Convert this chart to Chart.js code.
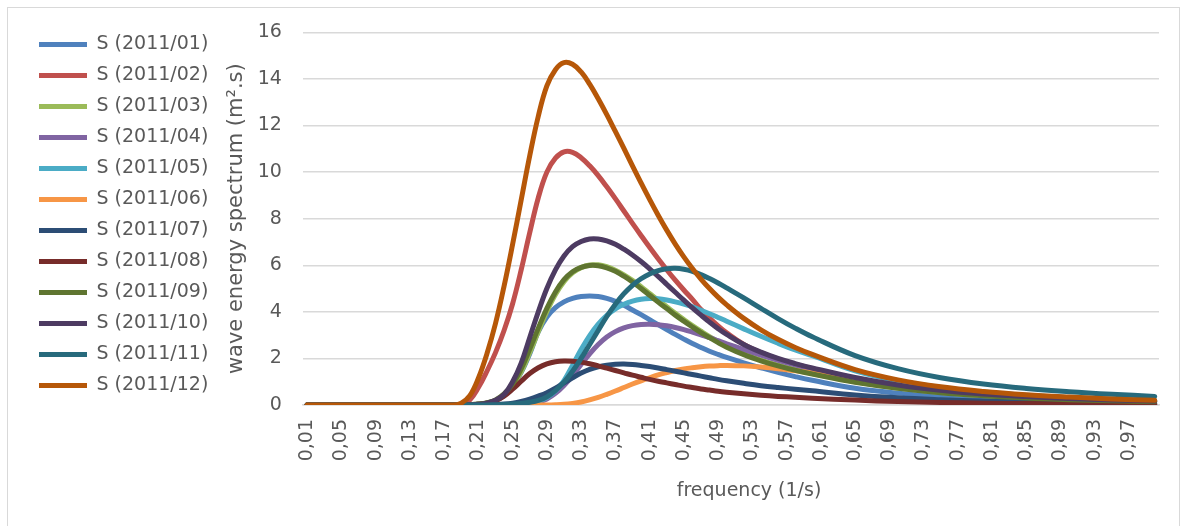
<!DOCTYPE html>
<html>
<head>
<meta charset="utf-8">
<title>Wave energy spectrum 2011</title>
<script src="https://cdn.jsdelivr.net/npm/chart.js@4/dist/chart.umd.min.js"></script>
<style>
  html, body { margin: 0; padding: 0; background: #fff; }
  #wrap { width: 1195px; height: 526px; }
</style>
</head>
<body>
<div id="wrap"><canvas id="spectrum" width="1195" height="526"></canvas></div>
<script>
// frequency grid (1/s) the spectra are sampled on
const freq = [
  0.01, 0.18,
  0.19, 0.20, 0.21, 0.22, 0.23, 0.24, 0.25, 0.26, 0.27, 0.28,
  0.29, 0.30, 0.31, 0.32, 0.33, 0.34, 0.35, 0.36, 0.37, 0.38,
  0.39, 0.40, 0.41, 0.42, 0.43, 0.44, 0.45, 0.46, 0.47, 0.48,
  0.49, 0.50, 0.52, 0.54, 0.56, 0.58, 0.60,
  0.65, 0.70, 0.75, 0.80, 0.85, 0.90, 0.95, 1.00
];

// labels shown under the frequency axis
const xTickValues = [
  0.01, 0.05, 0.09, 0.13, 0.17, 0.21, 0.25, 0.29, 0.33, 0.37, 0.41, 0.45, 0.49,
  0.53, 0.57, 0.61, 0.65, 0.69, 0.73, 0.77, 0.81, 0.85, 0.89, 0.93, 0.97
];

const seriesNames = [
  'S (2011/01)', 'S (2011/02)', 'S (2011/03)', 'S (2011/04)', 'S (2011/05)', 'S (2011/06)',
  'S (2011/07)', 'S (2011/08)', 'S (2011/09)', 'S (2011/10)', 'S (2011/11)', 'S (2011/12)'
];

const seriesColors = [
  '#4F81BD', '#C0504D', '#9BBB59', '#8064A2', '#4BACC6', '#F79646',
  '#2C4D75', '#772C2A', '#5F7530', '#4D3B62', '#276A7C', '#B65708'
];

// monthly spectra S(f) in m².s
const jan = [
  0, 0,
  0, 0.01, 0.03, 0.08, 0.18, 0.4, 0.8, 1.4, 2.2, 3.15,
  3.78, 4.18, 4.43, 4.58, 4.66, 4.68, 4.66, 4.58, 4.45, 4.28,
  4.08, 3.88, 3.66, 3.45, 3.24, 3.03, 2.83, 2.64, 2.47, 2.31,
  2.17, 2.04, 1.81, 1.6, 1.4, 1.22, 1.06,
  0.72, 0.51, 0.37, 0.28, 0.21, 0.16, 0.13, 0.1
];
const feb = [
  0, 0,
  0.03, 0.22, 0.75, 1.45, 2.25, 3.2, 4.35, 5.8, 7.4, 8.9,
  10.0, 10.6, 10.87, 10.85, 10.62, 10.27, 9.85, 9.37, 8.86, 8.33,
  7.8, 7.28, 6.77, 6.28, 5.81, 5.36, 4.94, 4.54, 4.1, 3.74,
  3.4, 3.1, 2.6, 2.25, 1.97, 1.75, 1.56,
  1.14, 0.83, 0.61, 0.45, 0.34, 0.27, 0.21, 0.16
];
const mar = [
  0, 0,
  0, 0.01, 0.03, 0.08, 0.19, 0.42, 0.82, 1.42, 2.25, 3.15,
  4.02, 4.75, 5.3, 5.68, 5.9, 6.01, 6.02, 5.94, 5.79, 5.59,
  5.35, 5.08, 4.79, 4.5, 4.22, 3.94, 3.67, 3.41, 3.17, 2.94,
  2.73, 2.53, 2.2, 1.93, 1.71, 1.52, 1.35,
  1.0, 0.73, 0.54, 0.4, 0.3, 0.23, 0.18, 0.14
];
const apr = [
  0, 0,
  0, 0, 0, 0, 0, 0.01, 0.01, 0.02, 0.05, 0.12,
  0.26, 0.5, 0.84, 1.26, 1.74, 2.2, 2.6, 2.92, 3.15, 3.31,
  3.41, 3.46, 3.47, 3.45, 3.4, 3.33, 3.24, 3.13, 3.01, 2.89,
  2.76, 2.63, 2.38, 2.14, 1.92, 1.72, 1.54,
  1.08, 0.78, 0.57, 0.42, 0.32, 0.25, 0.19, 0.15
];
const may = [
  0, 0,
  0, 0, 0, 0, 0, 0, 0.01, 0.03, 0.08, 0.17,
  0.32, 0.6, 1.05, 1.7, 2.38, 2.98, 3.47, 3.85, 4.13, 4.33,
  4.46, 4.54, 4.57, 4.56, 4.51, 4.43, 4.33, 4.21, 4.07, 3.92,
  3.76, 3.6, 3.27, 2.95, 2.65, 2.37, 2.12,
  1.47, 1.04, 0.75, 0.56, 0.42, 0.32, 0.25, 0.19
];
const jun = [
  0, 0,
  0, 0, 0, 0, 0, 0, 0, 0, 0, 0,
  0, 0.01, 0.03, 0.07, 0.13, 0.22, 0.33, 0.46, 0.6, 0.75,
  0.9, 1.04, 1.17, 1.29, 1.39, 1.48, 1.55, 1.6, 1.64, 1.67,
  1.69, 1.7, 1.68, 1.63, 1.56, 1.47, 1.38,
  1.12, 0.84, 0.62, 0.46, 0.35, 0.27, 0.21, 0.17
];
const jul = [
  0, 0,
  0, 0, 0, 0.01, 0.02, 0.04, 0.08, 0.15, 0.25, 0.38,
  0.53, 0.72, 0.95, 1.17, 1.37, 1.53, 1.64, 1.71, 1.75, 1.76,
  1.74, 1.7, 1.65, 1.59, 1.52, 1.45, 1.38, 1.31, 1.24, 1.17,
  1.1, 1.04, 0.93, 0.83, 0.75, 0.68, 0.61,
  0.43, 0.31, 0.23, 0.17, 0.13, 0.1, 0.08, 0.06
];
const aug = [
  0, 0,
  0, 0.01, 0.03, 0.08, 0.18, 0.38, 0.68, 1.02, 1.35, 1.6,
  1.77, 1.86, 1.89, 1.88, 1.84, 1.77, 1.68, 1.58, 1.48, 1.38,
  1.28, 1.19, 1.1, 1.02, 0.95, 0.88, 0.81, 0.75, 0.69, 0.64,
  0.59, 0.55, 0.48, 0.42, 0.37, 0.33, 0.29,
  0.21, 0.15, 0.11, 0.08, 0.06, 0.05, 0.04, 0.03
];
const sep = [
  0, 0,
  0, 0.01, 0.04, 0.1, 0.22, 0.48, 0.9, 1.55, 2.4, 3.3,
  4.15, 4.85, 5.38, 5.72, 5.91, 5.99, 5.98, 5.89, 5.74, 5.53,
  5.28, 5.0, 4.71, 4.42, 4.14, 3.86, 3.6, 3.35, 3.11, 2.89,
  2.68, 2.48, 2.16, 1.9, 1.68, 1.49, 1.33,
  0.98, 0.72, 0.53, 0.4, 0.3, 0.23, 0.18, 0.14
];
const oct = [
  0, 0,
  0, 0.01, 0.03, 0.08, 0.2, 0.45, 1.0, 1.8, 2.9, 4.0,
  5.0, 5.8, 6.4, 6.8, 7.02, 7.13, 7.13, 7.05, 6.9, 6.69,
  6.44, 6.16, 5.85, 5.52, 5.18, 4.84, 4.5, 4.17, 3.86, 3.56,
  3.28, 3.03, 2.6, 2.27, 2.0, 1.78, 1.59,
  1.18, 0.86, 0.63, 0.47, 0.36, 0.28, 0.22, 0.17
];
const nov = [
  0, 0,
  0, 0, 0, 0, 0.01, 0.02, 0.04, 0.07, 0.12, 0.2,
  0.35, 0.62, 0.98, 1.45, 2.0, 2.6, 3.2, 3.8, 4.33, 4.78,
  5.14, 5.42, 5.63, 5.77, 5.85, 5.87, 5.83, 5.74, 5.6, 5.43,
  5.24, 5.03, 4.6, 4.15, 3.71, 3.3, 2.93,
  2.12, 1.56, 1.17, 0.9, 0.71, 0.57, 0.46, 0.37
];
const dec = [
  0, 0,
  0.08, 0.4, 1.15, 2.2, 3.5, 5.1, 6.9, 8.8, 10.7, 12.4,
  13.7, 14.4, 14.7, 14.63, 14.3, 13.78, 13.15, 12.47, 11.75, 11.02,
  10.27, 9.54, 8.83, 8.15, 7.51, 6.91, 6.36, 5.86, 5.41, 5.0,
  4.63, 4.3, 3.72, 3.23, 2.82, 2.47, 2.17,
  1.52, 1.08, 0.78, 0.58, 0.44, 0.34, 0.26, 0.2
];

const monthly = [jan, feb, mar, apr, may, jun, jul, aug, sep, oct, nov, dec];

const FONT = "'DejaVu Sans', sans-serif";
const TEXT = '#595959';
const GRID = '#d9d9d9';

// light frame around the whole chart
const framePlugin = {
  id: 'frame',
  beforeDraw(chart) {
    const ctx = chart.ctx;
    ctx.save();
    ctx.fillStyle = '#fff';
    ctx.fillRect(0, 0, chart.width, chart.height);
    ctx.strokeStyle = GRID;
    ctx.lineWidth = 1;
    ctx.strokeRect(7.5, 7.5, 1172, 540);
    ctx.restore();
  }
};

const datasets = monthly.map((values, i) => ({
  label: seriesNames[i],
  data: values,
  borderColor: seriesColors[i],
  backgroundColor: seriesColors[i],
  borderWidth: 5,
  borderCapStyle: 'round',
  borderJoinStyle: 'round',
  pointRadius: 0,
  pointHoverRadius: 0,
  tension: 0.4,
  fill: false,
  // later months are painted on top
  order: monthly.length - i
}));

new Chart(document.getElementById('spectrum'), {
  type: 'line',
  data: { labels: freq, datasets: datasets },
  plugins: [framePlugin],
  options: {
    responsive: false,
    animation: false,
    events: [],
    layout: { padding: { left: 27, top: 20, right: 36, bottom: 0 } },
    plugins: {
      legend: {
        position: 'left',
        align: 'start',
        // empty title only nudges the entries down a little
        title: { display: true, text: '', padding: 0, font: { size: 2.5 } },
        labels: {
          usePointStyle: true,
          pointStyle: 'line',
          pointStyleWidth: 48,
          padding: 12,
          color: TEXT,
          font: { family: FONT, size: 19 },
          sort: (a, b) => a.datasetIndex - b.datasetIndex
        }
      },
      tooltip: { enabled: false }
    },
    scales: {
      x: {
        type: 'linear',
        min: 0.005,
        max: 1.005,
        afterBuildTicks: axis => { axis.ticks = xTickValues.map(v => ({ value: v })); },
        afterFit: axis => { axis.height = 121; },
        grid: { display: false, drawTicks: false },
        border: { display: true, color: GRID, width: 1.5 },
        ticks: {
          autoSkip: false,
          minRotation: 90,
          maxRotation: 90,
          padding: 14,
          color: TEXT,
          font: { family: FONT, size: 19 },
          callback: v => Number(v).toFixed(2).replace('.', ',')
        },
        title: {
          display: true,
          text: '\u00a0\u00a0\u00a0\u00a0\u00a0\u00a0frequency (1/s)',
          color: TEXT,
          font: { family: FONT, size: 19 },
          padding: { top: 0, bottom: 24 }
        }
      },
      y: {
        min: 0,
        max: 16,
        afterFit: axis => { axis.width = 84.5; },
        grid: { color: GRID, lineWidth: 1.5, drawTicks: false },
        border: { display: false },
        ticks: {
          stepSize: 2,
          padding: 21,
          color: TEXT,
          font: { family: FONT, size: 19 }
        },
        title: {
          display: true,
          text: 'wave energy spectrum (m².s)',
          color: TEXT,
          font: { family: FONT, size: 21 },
          padding: { top: 6, bottom: 0 }
        }
      }
    }
  }
});
</script>
</body>
</html>
